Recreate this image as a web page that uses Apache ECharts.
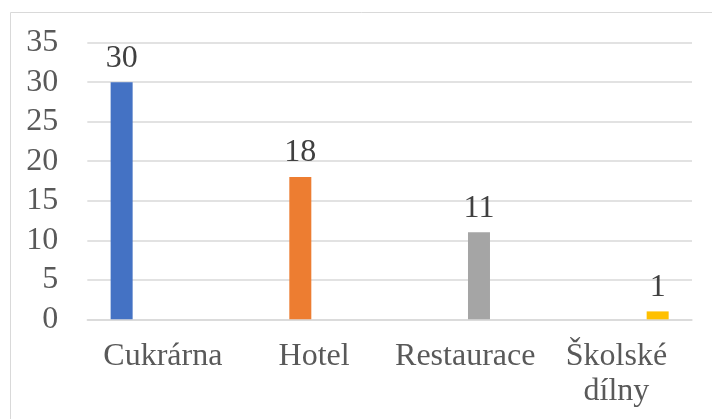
<!DOCTYPE html>
<html>
<head>
<meta charset="utf-8">
<script src="https://cdn.jsdelivr.net/npm/echarts@6/dist/echarts.min.js"></script>
<style>html,body{margin:0;padding:0;background:#fff;}#c{width:712px;height:419px;}</style>
</head>
<body>
<div id="c"></div>
<script>
const categories = ["Cukrárna", "Hotel", "Restaurace", "Školské dílny"];
const values = [30, 18, 11, 1];
const colors = ["#4472C4", "#ED7D31", "#A5A5A5", "#FFC000"];
const yTicks = {min: 0, max: 35, interval: 5};

const chart = echarts.init(document.getElementById('c'));
const series = values.map((v, i) => ({
  type: 'bar',
  name: categories[i],
  data: categories.map((c, j) => j === i ? v : '-'),
  barWidth: 22,
  barGap: '25%',
  itemStyle: {color: colors[i]},
  label: {
    show: true, position: 'top', distance: 8,
    fontFamily: 'Liberation Serif', fontSize: 32, color: '#404040'
  }
}));
chart.setOption({
  animation: false,
  grid: {left: 87.3, right: 20, top: 42.7, bottom: 99.7},
  graphic: [{type: 'rect', shape: {x: 10.5, y: 12.5, width: 720, height: 420},
    style: {fill: 'none', stroke: '#d9d9d9', lineWidth: 1}, silent: true}],
  xAxis: {
    type: 'category', data: categories,
    axisLine: {lineStyle: {color: '#d9d9d9', width: 1.5}},
    axisTick: {show: false},
    axisLabel: {
      fontFamily: 'Liberation Serif', fontSize: 32, color: '#595959', margin: 20,
      lineHeight: 35, interval: 0,
      formatter: v => v.replace(' ', '\n')
    }
  },
  yAxis: {
    type: 'value', min: yTicks.min, max: yTicks.max, interval: yTicks.interval,
    axisLine: {show: false}, axisTick: {show: false},
    splitLine: {lineStyle: {color: '#d9d9d9', width: 1.5}},
    axisLabel: {fontFamily: 'Liberation Serif', fontSize: 32, color: '#595959', margin: 29}
  },
  series: series
});
</script>
</body>
</html>
